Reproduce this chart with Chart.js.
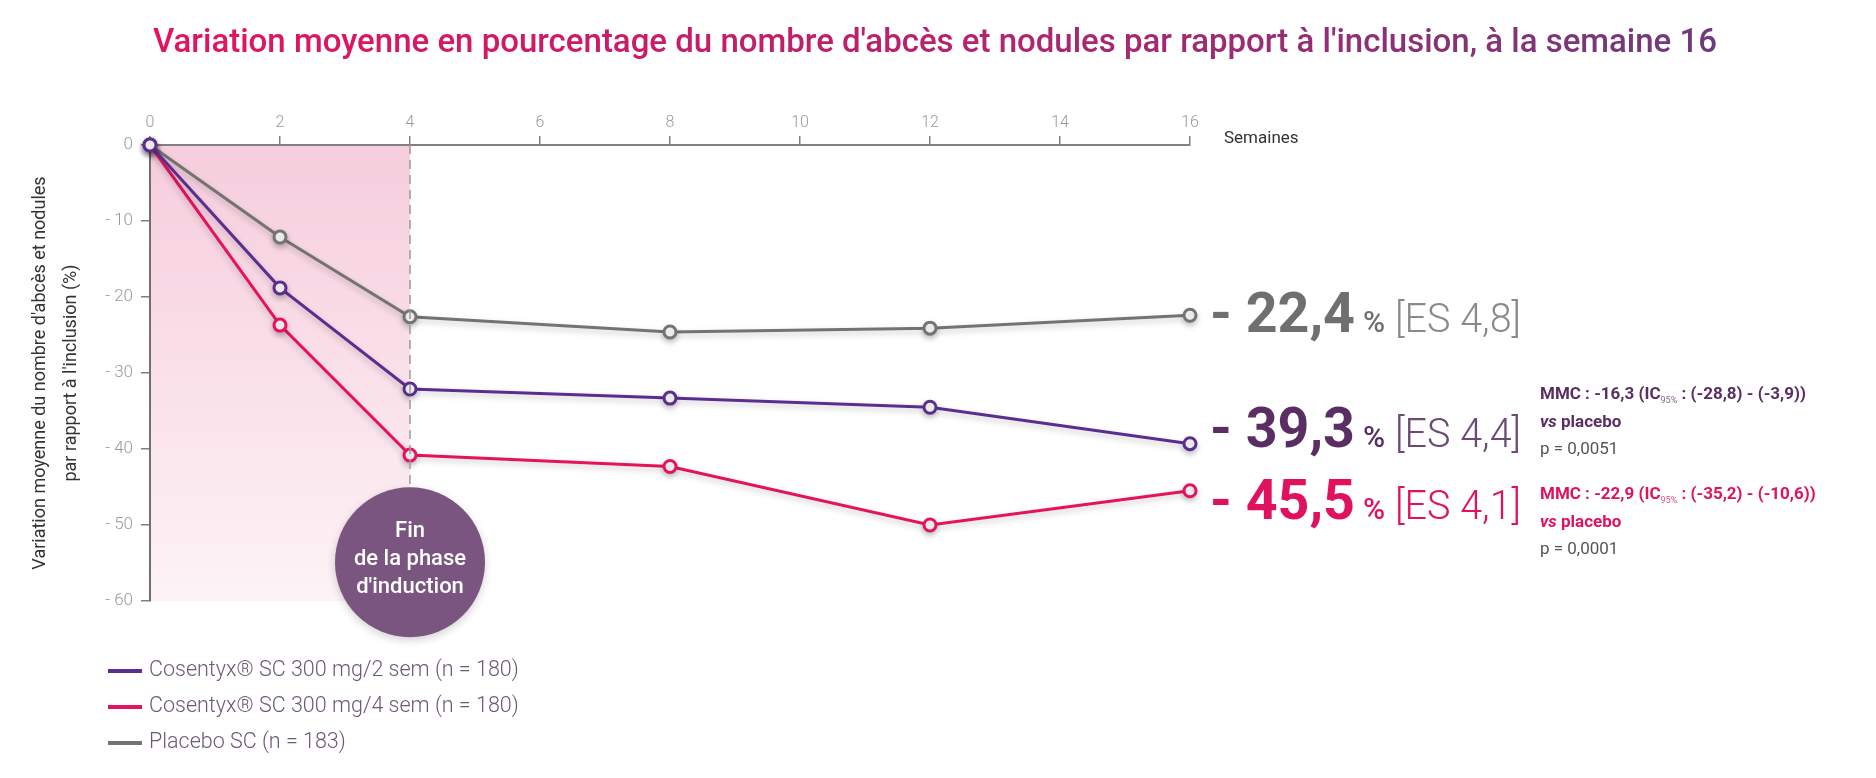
<!DOCTYPE html>
<html lang="fr">
<head>
<meta charset="utf-8">
<title>Variation moyenne du nombre d'abcès et nodules</title>
<script src="https://cdn.jsdelivr.net/npm/chart.js@4.4.1/dist/chart.umd.min.js"></script>
<style>
    html, body { margin: 0; padding: 0; background: #fff; }
    canvas { display: block; }
</style>
</head>
<body>
<canvas id="grafica" width="1876" height="778"></canvas>
<script>
// Données
const semaines = [0, 2, 4, 8, 12, 16];
const cosentyx2sem = [0, -18.8, -32.1, -33.3, -34.5, -39.3];
const cosentyx4sem = [0, -23.7, -40.8, -42.3, -50.0, -45.5];
const placebo = [0, -12.1, -22.6, -24.6, -24.1, -22.4];

const legendes = [
    "Cosentyx® SC 300 mg/2 sem (n = 180)",
    "Cosentyx® SC 300 mg/4 sem (n = 180)",
    "Placebo SC (n = 183)"
];
const valeursFinales = ["- 39,3", "- 45,5", "- 22,4"];
const erreursStandard = ["[ES 4,4]", "[ES 4,1]", "[ES 4,8]"];
const mmcDebut = ["MMC : -16,3 (IC", "MMC : -22,9 (IC"];
const mmcFin = [" : (-28,8) - (-3,9))", " : (-35,2) - (-10,6))"];
const valeursP = ["p = 0,0051", "p = 0,0001"];

const titre = "Variation moyenne en pourcentage du nombre d'abcès et nodules par rapport à l'inclusion, à la semaine 16";
const titreAxeY = ["Variation moyenne du nombre d'abcès et nodules", "par rapport à l'inclusion (%)"];
const titreAxeX = "Semaines";
const texteInduction = ["Fin", "de la phase", "d'induction"];

const couleurs = ["#5c2d91", "#e5135f", "#737373"];
const couleursTexte = ["#5a2e62", "#e0115f", "#6f6f6f"];
const couleursES = ["#6b4a73", "#e0115f", "#8a8a8a"];

const FONT = "Roboto, 'Noto Sans', sans-serif";

// Zone rose de la phase d'induction, ligne pointillée et bulle
const phaseInduction = {
    id: "phaseInduction",
    beforeDraw(chart) {
        const { ctx, scales: { x, y } } = chart;
        const x0 = x.getPixelForValue(0);
        const x4 = x.getPixelForValue(4);
        const yTop = y.getPixelForValue(0);
        const yBas = y.getPixelForValue(-60);
        const grad = ctx.createLinearGradient(0, yTop, 0, yBas);
        grad.addColorStop(0, "#f6cddc");
        grad.addColorStop(1, "#fdf3f7");
        ctx.save();
        ctx.fillStyle = grad;
        ctx.fillRect(x0, yTop, x4 - x0, yBas - yTop);
        ctx.restore();
    },
    afterDraw(chart) {
        const { ctx, scales: { x, y } } = chart;
        const cx = x.getPixelForValue(4);
        const cy = y.getPixelForValue(-54.9);
        const r = 75;
        ctx.save();
        ctx.strokeStyle = "#9a9a9a";
        ctx.lineWidth = 1.5;
        ctx.setLineDash([9, 6]);
        ctx.beginPath();
        ctx.moveTo(cx, y.getPixelForValue(0));
        ctx.lineTo(cx, cy - r);
        ctx.stroke();
        ctx.setLineDash([]);
        ctx.shadowColor = "rgba(0,0,0,0.18)";
        ctx.shadowBlur = 8;
        ctx.shadowOffsetY = 3;
        ctx.fillStyle = "#7a5580";
        ctx.beginPath();
        ctx.arc(cx, cy, r, 0, Math.PI * 2);
        ctx.fill();
        ctx.shadowColor = "transparent";
        ctx.fillStyle = "#ffffff";
        ctx.font = "500 22px " + FONT;
        ctx.textAlign = "center";
        ctx.textBaseline = "middle";
        texteInduction.forEach((t, i) => ctx.fillText(t, cx, cy - 31 + i * 28));
        ctx.restore();
    }
};

// Ombre douce sous les courbes
const ombreCourbes = {
    id: "ombreCourbes",
    beforeDatasetsDraw(chart) {
        const ctx = chart.ctx;
        ctx.save();
        ctx.shadowColor = "rgba(0,0,0,0.22)";
        ctx.shadowBlur = 6;
        ctx.shadowOffsetY = 3;
    },
    afterDatasetsDraw(chart) {
        chart.ctx.restore();
    }
};

// Textes : titre, axes, valeurs finales, MMC, légende
const textes = {
    id: "textes",
    afterDraw(chart) {
        const { ctx, scales: { x, y }, chartArea } = chart;
        ctx.save();

        // titre
        const g = ctx.createLinearGradient(150, 0, 1720, 0);
        g.addColorStop(0, "#e5135f");
        g.addColorStop(0.5, "#b8226d");
        g.addColorStop(1, "#6f3a7c");
        ctx.fillStyle = g;
        ctx.font = "500 33px " + FONT;
        ctx.textAlign = "left";
        ctx.textBaseline = "middle";
        ctx.fillText(titre, 153, 44, 1567);

        // titre axe Y
        ctx.save();
        ctx.translate(0, (chartArea.top + chartArea.bottom) / 2);
        ctx.rotate(-Math.PI / 2);
        ctx.fillStyle = "#333";
        ctx.font = "18px " + FONT;
        ctx.textAlign = "center";
        ctx.fillText(titreAxeY[0], 0, 40, 428);
        ctx.fillText(titreAxeY[1], 0, 71);
        ctx.restore();

        // titre axe X
        ctx.fillStyle = "#333";
        ctx.font = "17px " + FONT;
        ctx.textAlign = "left";
        ctx.fillText(titreAxeX, x.right + 34, y.top - 6);

        // valeurs à la semaine 16
        const lignesBase = [447, 519, 332];
        const xDebut = x.getPixelForValue(16) + 20;
        ctx.textBaseline = "alphabetic";
        for (let i = 0; i < 3; i++) {
            let px = xDebut;
            ctx.fillStyle = couleursTexte[i];
            ctx.font = "bold 56px " + FONT;
            ctx.fillText(valeursFinales[i], px, lignesBase[i], 145);
            px += Math.min(ctx.measureText(valeursFinales[i]).width, 145) + 8;
            ctx.font = "500 30px " + FONT;
            ctx.fillText("%", px, lignesBase[i]);
            px += ctx.measureText("%").width + 10;
            ctx.fillStyle = couleursES[i];
            ctx.font = "300 40px " + FONT;
            ctx.fillText(erreursStandard[i], px, lignesBase[i], 126);
        }

        // MMC
        const lignesMMC = [395, 495];
        ctx.textBaseline = "middle";
        for (let i = 0; i < 2; i++) {
            const y0 = lignesMMC[i];
            let px = 1540;
            ctx.fillStyle = couleursTexte[i];
            ctx.font = "bold 17px " + FONT;
            ctx.fillText(mmcDebut[i], px, y0, 124);
            px += Math.min(ctx.measureText(mmcDebut[i]).width, 124);
            ctx.font = "9px " + FONT;
            ctx.globalAlpha = 0.75;
            ctx.fillText("95%", px, y0 + 6);
            ctx.globalAlpha = 1;
            px += ctx.measureText("95%").width;
            ctx.font = "bold 17px " + FONT;
            ctx.fillText(mmcFin[i], px, y0, 162);
            ctx.font = "italic bold 17px " + FONT;
            ctx.fillText("vs", 1540, y0 + 28);
            const w = ctx.measureText("vs").width;
            ctx.font = "bold 17px " + FONT;
            ctx.fillText(" placebo", 1540 + w, y0 + 28);
            ctx.fillStyle = "#555";
            ctx.font = "17px " + FONT;
            ctx.fillText(valeursP[i], 1540, y0 + 55);
        }

        // légende
        ctx.font = "300 21.5px " + FONT;
        chart.data.datasets.forEach((ds, i) => {
            const ly = 671 + i * 36;
            ctx.strokeStyle = ds.borderColor;
            ctx.lineWidth = 4;
            ctx.beginPath();
            ctx.moveTo(108, ly);
            ctx.lineTo(142, ly);
            ctx.stroke();
            ctx.fillStyle = "#6e5877";
            ctx.fillText(legendes[i], 149, ly, 370);
        });

        ctx.restore();
    }
};

const canvas = document.getElementById("grafica");

const series = [cosentyx2sem, cosentyx4sem, placebo];

new Chart(canvas, {
    type: "line",
    data: {
        datasets: series.map((vals, i) => ({
            label: legendes[i],
            data: semaines.map((s, k) => ({ x: s, y: vals[k] })),
            borderColor: couleurs[i],
            backgroundColor: "#ffffff",
            borderWidth: 3,
            pointRadius: 6,
            pointBorderWidth: 3,
            pointBackgroundColor: "#ffffff",
            pointBorderColor: couleurs[i],
            tension: 0,
            clip: false
        }))
    },
    options: {
        responsive: false,
        animation: false,
        devicePixelRatio: 1,
        layout: {
            padding: { left: 90, top: 105, right: 686, bottom: 177 }
        },
        plugins: {
            legend: { display: false },
            tooltip: { enabled: false },
            title: { display: false }
        },
        scales: {
            x: {
                type: "linear",
                position: "top",
                min: 0,
                max: 16,
                afterFit(scale) { scale.height = 40; },
                ticks: {
                    stepSize: 2,
                    color: "#9a9a9a",
                    font: { family: FONT, size: 16, weight: "300" },
                    padding: 3
                },
                grid: {
                    drawOnChartArea: false,
                    drawTicks: true,
                    tickLength: 9,
                    color: "#808080",
                    lineWidth: 1.5
                },
                border: { display: true, color: "#808080", width: 2 }
            },
            y: {
                min: -60,
                max: 0,
                afterFit(scale) { scale.width = 60; },
                ticks: {
                    stepSize: 10,
                    color: "#9a9a9a",
                    font: { family: FONT, size: 17, weight: "300" },
                    padding: 8,
                    callback: v => (v === 0 ? "0" : "- " + Math.abs(v))
                },
                grid: {
                    drawOnChartArea: false,
                    drawTicks: true,
                    tickLength: 9,
                    color: "#808080",
                    lineWidth: 1.5
                },
                border: { display: true, color: "#707070", width: 2 }
            }
        }
    },
    plugins: [phaseInduction, ombreCourbes, textes]
});
</script>
</body>
</html>
